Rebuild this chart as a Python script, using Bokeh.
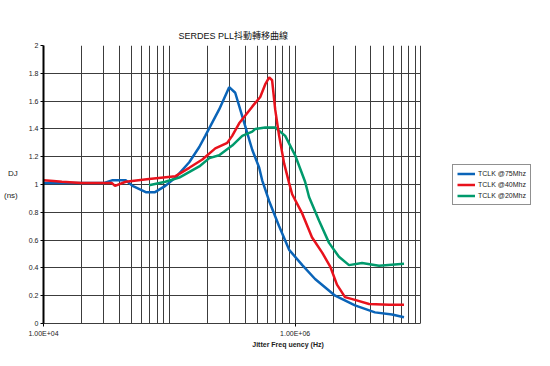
from bokeh.plotting import figure
from bokeh.models import Range1d, FixedTicker, Legend, LegendItem
from bokeh.embed import file_html
from bokeh.resources import INLINE

# ---- data (frequency in Hz, deterministic jitter in ns) ----
blue_f = [1.0e4, 3.0e4, 3.5e4, 4.5e4, 5.1e4, 6.5e4, 7.7e4, 9.3e4, 1.12e5, 1.44e5, 1.73e5, 1.93e5,
          2.49e5, 2.99e5, 3.34e5, 3.8e5, 4.01e5, 4.56e5, 5.18e5, 5.47e5, 6.22e5, 7.46e5, 8.96e5,
          1.14e6, 1.44e6, 2.08e6, 2.99e6, 4.31e6, 5.89e6, 7.33e6]
blue_v = [1.01, 1.01, 1.03, 1.03, 0.99, 0.945, 0.945, 0.99, 1.05, 1.16, 1.27, 1.35,
          1.54, 1.70, 1.66, 1.49, 1.42, 1.25, 1.12, 1.03, 0.88, 0.70, 0.53,
          0.42, 0.32, 0.20, 0.13, 0.08, 0.065, 0.045]

red_f = [1.0e4, 1.2e4, 1.4e4, 2.0e4, 3.5e4, 3.7e4, 4.5e4, 6.9e4, 1.12e5, 1.44e5, 1.83e5, 2.32e5,
         2.89e5, 3.16e5, 3.59e5, 4.56e5, 5.28e5, 5.78e5, 6.22e5, 6.56e5, 6.94e5, 7.46e5, 8.18e5,
         8.96e5, 9.47e5, 1.14e6, 1.36e6, 1.64e6, 1.9e6, 2.15e6, 2.49e6, 2.99e6, 3.87e6, 5.57e6, 7.33e6]
red_v = [1.03, 1.025, 1.02, 1.01, 1.01, 0.99, 1.02, 1.04, 1.06, 1.12, 1.18, 1.26,
         1.30, 1.35, 1.44, 1.56, 1.63, 1.72, 1.77, 1.75, 1.54, 1.35, 1.15,
         1.01, 0.93, 0.79, 0.62, 0.51, 0.41, 0.28, 0.19, 0.17, 0.14, 0.135, 0.135]

green_f = [6.9e4, 9.3e4, 1.2e5, 1.73e5, 2.08e5, 2.49e5, 3.16e5, 3.8e5, 4.56e5, 4.82e5, 5.78e5,
           6.94e5, 8.34e5, 1.0e6, 1.2e6, 1.29e6, 1.55e6, 1.86e6, 2.23e6, 2.68e6, 3.4e6, 4.64e6, 7.33e6]
green_v = [0.995, 1.02, 1.05, 1.13, 1.19, 1.21, 1.28, 1.35, 1.38, 1.40, 1.41,
           1.41, 1.35, 1.21, 1.02, 0.91, 0.74, 0.58, 0.48, 0.42, 0.435, 0.415, 0.43]

series_names = ["TCLK @75Mhz", "TCLK @40Mhz", "TCLK @20Mhz"]

X_MIN, X_MAX = 1e4, 1e7
Y_MIN, Y_MAX = 0, 2
x_major = [1e4, 1e6]
x_major_labels = ["1.00E+04", "1.00E+06"]
x_minor = [m * 10 ** e for e in (4, 5, 6) for m in range(2, 10)] + [1e5, 1e7]
y_ticks = [0, 0.2, 0.4, 0.6, 0.8, 1, 1.2, 1.4, 1.6, 1.8, 2]
y_labels = ["0", "0.2", "0.4", "0.6", "0.8", "1", "1.2", "1.4", "1.6", "1.8", "2"]

FONT = "Liberation Sans"
GRID = "#3c3c3c"

# layout (pixels): the frame runs to the right edge so the legend can sit
# beside the grid; the data axis itself ends at X_MAX.
W, H = 534, 350
LEFT, GRID_RIGHT = 41, 420
x_end = 10 ** (4 + 3 * (W - LEFT) / (GRID_RIGHT - LEFT))

p = figure(width=W, height=H, x_axis_type="log",
           x_range=Range1d(X_MIN, x_end), y_range=Range1d(Y_MIN, Y_MAX),
           output_backend="svg", toolbar_location=None,
           min_border_left=0, min_border_right=0, min_border_top=45, min_border_bottom=20,
           title="SERDES PLL抖動轉移曲線")

p.title.align = "left"
p.title.offset = 135
p.title.text_font = FONT + ", Noto Sans CJK TC"
p.title.text_font_size = "9px"
p.title.text_font_style = "normal"
p.title.text_color = "#111111"
p.title.standoff = 10

p.background_fill_color = "white"
p.border_fill_color = "white"
p.outline_line_color = None

# x axis
xa = p.xaxis[0]
xa.bounds = (X_MIN, X_MAX)
xa.ticker = FixedTicker(ticks=x_major, minor_ticks=x_minor)
xa.major_label_overrides = {int(t): s for t, s in zip(x_major, x_major_labels)}
xa.major_label_text_font = FONT
xa.major_label_text_font_size = "7px"
xa.major_label_text_color = "#222222"
xa.major_tick_out = 3
xa.major_tick_in = 0
xa.minor_tick_out = 0
xa.minor_tick_in = 0
xa.major_label_standoff = 3
xa.axis_label = "Jitter Freq  uency (Hz)"
xa.axis_label_text_font = FONT
xa.axis_label_text_font_size = "7px"
xa.axis_label_text_font_style = "bold"
xa.axis_label_text_color = "#222222"
xa.axis_label_standoff = 1
xa.axis_line_color = GRID

# y axis
ya = p.yaxis[0]
ya.ticker = FixedTicker(ticks=y_ticks)
ya.major_label_overrides = {t: s for t, s in zip(y_ticks, y_labels)}
ya.major_label_text_font = FONT
ya.major_label_text_font_size = "7px"
ya.major_label_text_color = "#222222"
ya.major_tick_out = 3
ya.major_tick_in = 0
ya.minor_tick_out = 0
ya.minor_tick_in = 0
ya.major_label_standoff = 2
ya.axis_label = "DJ\n\n(ns)"
ya.axis_label_orientation = "horizontal"
ya.axis_label_text_font = FONT
ya.axis_label_text_font_size = "8px"
ya.axis_label_text_font_style = "normal"
ya.axis_label_text_color = "#222222"
ya.axis_label_standoff = 8
ya.axis_line_color = "black"
ya.axis_line_width = 2

# grids
p.xgrid.grid_line_color = GRID
p.xgrid.grid_line_alpha = 1
p.xgrid.minor_grid_line_color = GRID
p.xgrid.minor_grid_line_alpha = 1
yg = p.ygrid[0]
if hasattr(yg, "cross_bounds"):
    yg.cross_bounds = (X_MIN, X_MAX)
    yg.grid_line_color = GRID
    yg.grid_line_alpha = 1
else:
    yg.grid_line_color = None
    p.segment(x0=[X_MIN] * len(y_ticks), y0=y_ticks, x1=[X_MAX] * len(y_ticks), y1=y_ticks,
              line_color=GRID, line_width=1, level="underlay")

BLUE = "#0a64b8"
RED = "#e8121c"
GREEN = "#009a6c"

rb = p.line(blue_f, blue_v, line_color=BLUE, line_width=2.5)
rg = p.line(green_f, green_v, line_color=GREEN, line_width=2.5)
rr = p.line(red_f, red_v, line_color=RED, line_width=2.5)

legend = Legend(items=[LegendItem(label=series_names[0], renderers=[rb]),
                       LegendItem(label=series_names[1], renderers=[rr]),
                       LegendItem(label=series_names[2], renderers=[rg])],
                location=(409, 118))
legend.label_text_font = FONT
legend.label_text_font_size = "7px"
legend.label_text_color = "#222222"
legend.glyph_width = 18
legend.glyph_height = 9
legend.label_height = 9
legend.label_standoff = 3
legend.spacing = 2
legend.padding = 4
legend.margin = 0
legend.border_line_color = "#222222"
legend.border_line_width = 1
legend.background_fill_alpha = 1
p.add_layout(legend, "center")

open("out.html", "w").write(file_html(p, INLINE))
